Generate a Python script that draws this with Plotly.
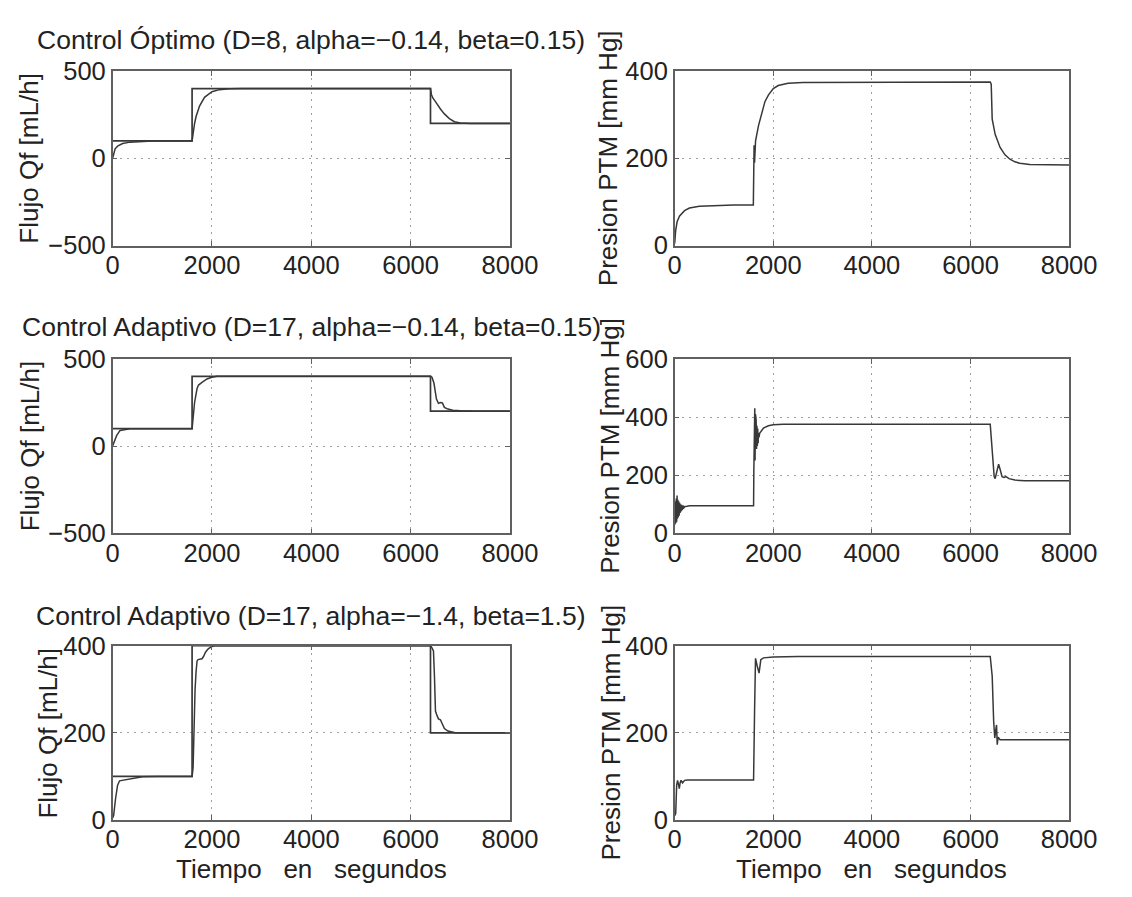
import plotly.graph_objects as go

W, H = 1132, 897

# ---------------- data ----------------
x_ticks = [0, 2000, 4000, 6000, 8000]
qf_ticks_wide = [-500, 0, 500]
qf_ticks_narrow = [0, 200, 400]
ptm_ticks_400 = [0, 200, 400]
ptm_ticks_600 = [0, 200, 400, 600]

# Qf set-point (step changes)
step_times = [0, 1600, 6400, 8000]
qf_setpoint = [100, 400, 200, 200]

# Panel 1: Control Optimo, Qf response
qf_opt_t = [0, 20, 50, 100, 200, 350, 550, 800, 1600, 1620, 1650, 1680, 1750, 1850, 2000, 2150,
            2350, 2600, 6400, 6420, 6450, 6500, 6550, 6600, 6680, 6780, 6880, 7000, 7200, 8000]
qf_opt_v = [0, 30, 55, 70, 85, 93, 97, 100, 100, 145, 200, 240, 300, 350, 382, 394,
            399, 400, 400, 365, 345, 325, 303, 283, 255, 228, 210, 203, 200, 200]

# Panel 2: Control Optimo, PTM
ptm_opt_t = [0, 20, 50, 100, 200, 300, 500, 800, 1200, 1595, 1600, 1610, 1620, 1640, 1700, 1760,
             1830, 1900, 2000, 2100, 2300, 2600, 4000, 6400, 6420, 6440, 6500, 6600, 6700, 6800,
             6900, 7000, 7200, 7500, 8000]
ptm_opt_v = [5, 35, 55, 68, 80, 86, 90, 92, 93, 93, 150, 230, 190, 240, 275, 300,
             330, 345, 360, 367, 372, 374, 375, 375, 370, 290, 255, 225, 208, 198,
             192, 189, 186, 185, 185]

# Panel 3: Control Adaptivo (D=17, alpha=-0.14), Qf response
qf_ad1_t = [0, 40, 80, 150, 350, 1600, 1610, 1650, 1700, 1730, 1800, 1900, 2000, 2100, 6400, 6430,
            6470, 6520, 6560, 6600, 6640, 6680, 6750, 6850, 7000, 7300, 8000]
qf_ad1_v = [0, 30, 60, 90, 100, 100, 140, 250, 330, 350, 365, 385, 395, 400, 400, 395,
            360, 270, 245, 250, 248, 222, 212, 206, 202, 200, 200]

# Panel 4: Control Adaptivo (D=17, alpha=-0.14), PTM
ptm_ad1_t = [0, 8, 16, 24, 32, 40, 48, 56, 64, 72, 80, 90, 100, 110, 120, 130, 140, 155, 170, 190,
             210, 250, 300, 400, 1000, 1600, 1605, 1612, 1618, 1624, 1630, 1638, 1645, 1652,
             1660, 1668, 1676, 1684, 1692, 1700, 1710, 1725, 1750, 1800, 1900, 2000, 2200, 6400,
             6420, 6450, 6480, 6500, 6540, 6570, 6600, 6640, 6680, 6720, 6780, 6900, 7100, 8000]
ptm_ad1_v = [100, 30, 110, 35, 120, 40, 130, 50, 115, 55, 110, 60, 105, 70, 100, 75, 98, 80, 95, 88,
             92, 93, 95, 95, 95, 95, 210, 400, 230, 430, 250, 410, 270, 390,
             290, 370, 300, 360, 310, 345, 330, 345, 350, 362, 370, 373, 375, 375,
             330, 250, 195, 188, 215, 238, 220, 195, 192, 195, 188, 183, 181, 181]

# Panel 5: Control Adaptivo (D=17, alpha=-1.4), Qf response
qf_ad2_t = [0, 20, 60, 100, 140, 250, 400, 600, 900, 1600, 1620, 1640, 1660, 1680, 1700, 1720,
            1800, 1830, 1870, 1920, 1980, 2050, 6400, 6430, 6460, 6480, 6500, 6530, 6560, 6600,
            6630, 6680, 6750, 6900, 8000]
qf_ad2_v = [5, 10, 50, 80, 90, 92, 96, 99, 100, 100, 120, 220, 300, 340, 365, 368,
            370, 375, 385, 392, 397, 400, 400, 395, 388, 330, 250, 240, 232, 230,
            222, 210, 204, 200, 200]

# Panel 6: Control Adaptivo (D=17, alpha=-1.4), PTM
ptm_ad2_t = [0, 20, 40, 58, 80, 93, 110, 129, 160, 200, 260, 1600, 1620, 1639, 1670, 1711, 1747,
             1800, 2000, 2500, 6400, 6440, 6470, 6492, 6510, 6528, 6542, 6560, 6600, 8000]
ptm_ad2_v = [10, 15, 80, 91, 80, 72, 85, 91, 85, 91, 92, 92, 250, 371, 355, 337, 368,
             372, 374, 375, 375, 330, 226, 188, 205, 218, 173, 190, 184, 184]

titles = [
    "Control Óptimo (D=8, alpha=\u22120.14, beta=0.15)",
    "Control Adaptivo (D=17, alpha=\u22120.14, beta=0.15)",
    "Control Adaptivo (D=17, alpha=\u22121.4, beta=1.5)",
]
qf_label = "Flujo Qf [mL/h]"
ptm_label = "Presion PTM [mm Hg]"
time_label = "Tiempo\u00a0\u00a0 en\u00a0\u00a0 segundos"

# ---------------- figure ----------------
FONT = "Liberation Sans, Arial, Helvetica, sans-serif"
LINE = "#383838"
AX = "#606060"
GRID = "#a0a0a0"
TXT = "#222222"


def px_x(p):
    return p / W


def px_y(p):
    return 1 - p / H


left_dom = [px_x(109), px_x(519)]
right_dom = [px_x(689), px_x(1096)]
row_doms = [[px_y(239), px_y(59)], [px_y(536), px_y(356)], [px_y(832), px_y(652)]]

fig = go.Figure()

panels = [
    # (col, row, y-range, y-ticks, series, has setpoint)
    (0, 0, [-500, 500], qf_ticks_wide, (qf_opt_t, qf_opt_v), True),
    (1, 0, [0, 400], ptm_ticks_400, (ptm_opt_t, ptm_opt_v), False),
    (0, 1, [-500, 500], qf_ticks_wide, (qf_ad1_t, qf_ad1_v), True),
    (1, 1, [0, 600], ptm_ticks_600, (ptm_ad1_t, ptm_ad1_v), False),
    (0, 2, [0, 400], qf_ticks_narrow, (qf_ad2_t, qf_ad2_v), True),
    (1, 2, [0, 400], ptm_ticks_400, (ptm_ad2_t, ptm_ad2_v), False),
]

layout_axes = {}
for i, (col, row, yr, yt, (tt, vv), sp) in enumerate(panels, start=1):
    xa = "x" if i == 1 else f"x{i}"
    ya = "y" if i == 1 else f"y{i}"
    if sp:
        fig.add_trace(go.Scatter(x=step_times, y=qf_setpoint, mode="lines", line_shape="hv",
                                 line=dict(color=LINE, width=1.7), xaxis=xa, yaxis=ya,
                                 showlegend=False, hoverinfo="skip"))
    fig.add_trace(go.Scatter(x=tt, y=vv, mode="lines",
                             line=dict(color=LINE, width=1.5), xaxis=xa, yaxis=ya,
                             showlegend=False))
    common = dict(showline=True, mirror="ticks", linecolor=AX, linewidth=1.5,
                  ticks="inside", ticklen=5, tickcolor=AX, tickwidth=1,
                  showgrid=True, gridcolor=GRID, griddash="2px,5px", gridwidth=1.2,
                  zeroline=False, tickfont=dict(family=FONT, size=25.5, color=TXT),
                  tickmode="array")
    layout_axes["xaxis" if i == 1 else f"xaxis{i}"] = dict(
        domain=left_dom if col == 0 else right_dom, range=[0, 8000], tickvals=x_ticks,
        anchor=ya, ticklabelstandoff=-4, **common)
    layout_axes["yaxis" if i == 1 else f"yaxis{i}"] = dict(
        domain=row_doms[row], range=yr, tickvals=yt, anchor=xa, **common)

fig.update_layout(**layout_axes)

ann = []
title_y = [27, 323, 621]
for r, t in enumerate(titles):
    ann.append(dict(text=t, x=px_x(314), y=px_y(title_y[r]), xref="paper", yref="paper",
                    xanchor="center", yanchor="middle", showarrow=False,
                    font=dict(family=FONT, size=26.5, color=TXT)))

ylab_left_x = [23, 24, 42]
ylab_right_x = [621, 622, 623]
row_centers = [149, 446, 742]
for r in range(3):
    ann.append(dict(text=qf_label, x=px_x(ylab_left_x[r]), y=px_y(row_centers[r]),
                    xref="paper", yref="paper", xanchor="center", yanchor="middle",
                    textangle=-90, showarrow=False,
                    font=dict(family=FONT, size=26, color=TXT)))
    ann.append(dict(text=ptm_label, x=px_x(ylab_right_x[r]), y=px_y(row_centers[r]),
                    xref="paper", yref="paper", xanchor="center", yanchor="middle",
                    textangle=-90, showarrow=False,
                    font=dict(family=FONT, size=26, color=TXT)))

for cx in (314, 892):
    ann.append(dict(text=time_label, x=px_x(cx), y=px_y(883), xref="paper", yref="paper",
                    xanchor="center", yanchor="middle", showarrow=False,
                    font=dict(family=FONT, size=26, color=TXT)))

fig.update_layout(annotations=ann, width=W, height=H, autosize=False,
                  margin=dict(l=0, r=0, t=0, b=0),
                  paper_bgcolor="white", plot_bgcolor="white")

fig.write_html("out.html")
